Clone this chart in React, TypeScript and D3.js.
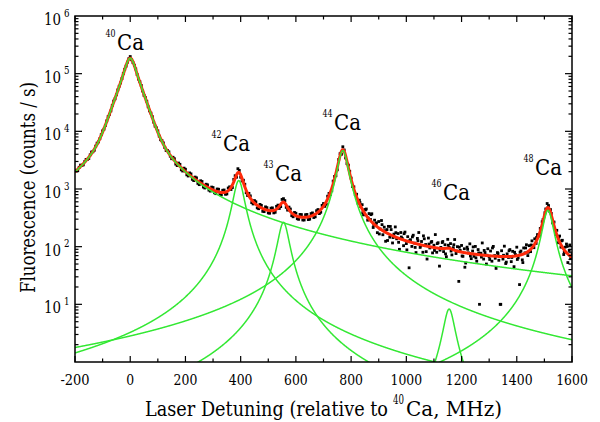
import * as d3 from "d3";

// measured scan, [detuning MHz, counts/s]
const scanCoarse: [number, number][] = [
  [-200, 2120], [-190, 2080], [-180, 2600], [-170, 2620], [-160, 3250], [-150, 3380],
  [-140, 4380], [-130, 4700], [-120, 6250], [-110, 7450], [-100, 10200], [-90, 12600],
  [-80, 18000], [-70, 22600], [-60, 33500], [-50, 43000], [-40, 60500], [-30, 82000],
  [-20, 119000], [-10, 158000], [0, 198000], [10, 155000], [20, 121000], [30, 80500],
  [40, 62500], [50, 42000], [60, 33300], [70, 22600], [80, 18000], [90, 12300],
  [100, 10200], [110, 7150], [120, 6300], [130, 4650], [140, 4400], [150, 3350],
  [160, 3350], [170, 2550], [180, 2680], [190, 2050], [200, 2200], [210, 1680],
  [220, 1830], [230, 1400], [240, 1560], [250, 1190], [260, 1350], [270, 1040],
  [280, 1180], [290, 920], [300, 1060], [310, 830], [320, 990], [330, 790],
  [340, 960], [350, 820], [360, 1090], [370, 1060], [380, 1700], [390, 2250],
  [400, 1600], [410, 1420], [420, 860], [430, 840], [440, 580], [450, 630],
  [460, 470], [470, 540], [480, 410], [490, 490], [500, 385], [510, 465],
  [520, 385], [530, 500], [540, 460], [550, 660], [560, 630], [570, 430],
  [580, 450], [590, 330], [600, 380], [610, 298], [620, 360], [630, 290],
  [640, 362], [650, 300], [660, 385], [670, 330], [680, 440], [690, 395],
  [700, 560], [710, 545], [720, 840], [730, 930], [740, 1650], [750, 2150],
  [760, 4100], [770, 5400], [780, 3450], [790, 2600],
];

const scanFine: [number, number][] = [
  [-195, 2050], [-185, 2380], [-175, 2560], [-165, 2980], [-155, 3260], [-145, 3920],
  [-135, 4420], [-125, 5550], [-115, 6550], [-105, 8750], [-95, 10900], [-85, 15200],
  [-75, 19700], [-65, 28100], [-55, 36600], [-45, 52300], [-35, 69000], [-25, 100500],
  [-15, 135000], [-5, 182000], [5, 174000], [15, 140000], [25, 96500], [35, 72500],
  [45, 50000], [55, 38500], [65, 26600], [75, 20700], [85, 14400], [95, 11500],
  [105, 8250], [115, 6900], [125, 5250], [135, 4650], [145, 3700], [155, 3550],
  [165, 2700], [175, 2820], [185, 2150], [195, 2300], [205, 1760], [215, 1900],
  [225, 1470], [235, 1610], [245, 1250], [255, 1390], [265, 1080], [275, 1210],
  [285, 955], [295, 1080], [305, 860], [315, 1000], [325, 800], [335, 950],
  [345, 810], [355, 1040], [365, 980], [375, 1470], [385, 1600], [395, 2100],
  [405, 1380], [415, 1210], [425, 770], [435, 760], [445, 550], [455, 600],
  [465, 455], [475, 520], [485, 405], [495, 475], [505, 380], [515, 470],
  [525, 395], [535, 525], [545, 495], [555, 680], [565, 480], [575, 485],
  [585, 345], [595, 392], [605, 305], [615, 362], [625, 290], [635, 358],
  [645, 295], [655, 375], [665, 320], [675, 420], [685, 375], [695, 520],
  [705, 500], [715, 750], [725, 800], [735, 1370], [745, 1700], [755, 3250],
  [765, 4000], [775, 4750], [785, 2750], [795, 2030],
];

const scanTail: [number, number][] = [
  [800, 1550], [805, 1100], [810, 1090], [815, 800], [820, 810], [825, 567],
  [830, 640], [835, 495], [840, 535], [845, 356], [850, 440], [855, 450],
  [860, 288], [865, 375], [870, 296], [875, 372], [880, 215], [885, 288],
  [890, 252], [895, 175], [900, 273], [905, 203], [910, 284], [915, 161],
  [920, 218], [925, 124], [930, 198], [935, 225], [940, 146], [945, 198],
  [950, 116], [955, 165], [960, 220], [965, 137], [970, 169], [975, 90],
  [980, 176], [985, 139], [990, 104], [995, 179], [1000, 113], [1005, 149],
  [1010, 43], [1015, 132], [1020, 101], [1025, 158], [1030, 115], [1035, 79],
  [1040, 139], [1045, 176], [1050, 97], [1055, 123], [1060, 80], [1065, 137],
  [1070, 109], [1075, 61], [1080, 141], [1085, 95], [1090, 119], [1095, 78],
  [1100, 106], [1105, 162], [1110, 80], [1115, 117], [1120, 46], [1125, 97],
  [1130, 118], [1135, 82], [1140, 108], [1145, 67], [1150, 134], [1155, 97],
  [1160, 113], [1165, 72], [1170, 96], [1175, 133], [1180, 76], [1185, 100],
  [1190, 25], [1195, 86], [1200, 105], [1205, 68], [1210, 92], [1215, 52],
  [1220, 98], [1225, 78], [1230, 112], [1235, 62], [1240, 84], [1245, 68],
  [1250, 101], [1255, 56], [1260, 89], [1265, 10], [1270, 77], [1275, 116],
  [1280, 61], [1285, 79], [1290, 50], [1295, 92], [1300, 67], [1305, 84],
  [1310, 56], [1315, 101], [1320, 70], [1325, 42], [1330, 79], [1335, 58],
  [1340, 10], [1345, 85], [1350, 61], [1355, 102], [1360, 51], [1365, 75],
  [1370, 65], [1375, 89], [1380, 55], [1385, 83], [1390, 45], [1395, 73],
  [1400, 98], [1405, 64], [1410, 22], [1415, 84], [1420, 59], [1425, 95],
  [1430, 78], [1435, 108], [1440, 70], [1445, 104], [1450, 82], [1455, 126],
  [1460, 104], [1465, 137], [1470, 114], [1475, 162], [1480, 159], [1485, 207],
  [1490, 215], [1495, 294], [1500, 342], [1505, 451], [1510, 560], [1515, 517],
  [1520, 405], [1525, 378], [1530, 258], [1535, 267], [1540, 191], [1545, 192],
  [1550, 117], [1555, 153], [1560, 98], [1565, 129], [1570, 73], [1575, 98],
  [1580, 111], [1585, 53], [1590, 86], [1595, 62], [1600, 73],
];

const scanTailExtra: [number, number][] = [
  [832, 583], [842, 387], [852, 434], [862, 312], [872, 359], [882, 236],
  [892, 259], [902, 166], [912, 241], [922, 189], [932, 128], [942, 224],
  [952, 144], [962, 175], [972, 119], [982, 147], [992, 168], [1002, 88],
  [1012, 127], [1022, 148], [1032, 97], [1042, 127], [1052, 103], [1062, 154],
  [1072, 82], [1082, 111], [1092, 123], [1102, 86], [1112, 113], [1122, 87],
  [1132, 123], [1142, 75], [1152, 106], [1162, 84], [1172, 108], [1182, 84],
  [1192, 98], [1202, 69], [1212, 44], [1222, 90], [1232, 69], [1242, 99],
  [1252, 64], [1262, 78], [1272, 66], [1282, 86], [1292, 71], [1302, 60],
  [1312, 95], [1322, 63], [1332, 76], [1342, 10], [1352, 71], [1362, 54],
  [1372, 85], [1382, 65], [1392, 80], [1402, 60], [1412, 80], [1422, 53],
  [1432, 95], [1442, 80], [1452, 107], [1462, 96], [1472, 145], [1482, 153],
  [1492, 270], [1502, 389], [1512, 470], [1522, 440], [1532, 265], [1542, 162],
  [1552, 145], [1562, 126], [1572, 80], [1582, 101], [1592, 107],
];

// fitted peaks (Lorentzian, 40Ca with extra gaussian core)
const isotopes = ["40", "42", "43", "44", "46", "48"];
const peakCenters = [0, 393, 555, 770, 1155, 1513];
const peakHeights = [150000, 1400, 265, 4650, 8.3, 426];
const peakHalfWidths = [23.1, 19, 19, 19, 19, 19];
const coreHeights = [35000, 0, 0, 0, 0, 0];
const coreWidths = [42, 1, 1, 1, 1, 1];
const backgroundCounts = 12;

const xTicks = [-200, 0, 200, 400, 600, 800, 1000, 1200, 1400, 1600];
const yExponents = [1, 2, 3, 4, 5, 6];

const W = 600;
const H = 422;
const margin = { top: 16, right: 28, bottom: 60, left: 75 };
const GREEN = "#33e833";
const RED = "#ff2a0a";
const fontStyle = { fontFamily: "'DejaVu Serif', serif" };

// label anchors in px: left of "Ca", baseline
const labelSpots: [number, number][] = [
  [117, 50], [223, 151], [275, 181], [334, 130], [443, 200], [535, 175],
];

function peak(i: number, v: number) {
  const d = v - peakCenters[i];
  const w2 = peakHalfWidths[i] * peakHalfWidths[i];
  const s2 = 2 * coreWidths[i] * coreWidths[i];
  return (peakHeights[i] * w2) / (d * d + w2) + coreHeights[i] * Math.exp((-d * d) / s2);
}

// squeeze the wide serif so it takes the room of the original Times text
const fit = (len: number) => ({ textLength: len, lengthAdjust: "spacingAndGlyphs" });

export default function App() {
  const x0 = margin.left;
  const x1 = W - margin.right;
  const y0 = margin.top;
  const y1 = H - margin.bottom;

  const x = d3.scaleLinear().domain([-200, 1600]).range([x0, x1]);
  const y = d3.scaleLog().domain([1, 1e6]).range([y1, y0]);

  const grid = d3.range(-200, 1600.5, 1);
  const line = d3
    .line<[number, number]>()
    .x((d) => x(d[0]))
    .y((d) => y(Math.max(d[1], 0.05)));

  const greenPaths = isotopes.map((_, i) =>
    line(grid.map((v) => [v, peak(i, v)] as [number, number])),
  );
  const redPath = line(
    grid.map(
      (v) =>
        [v, backgroundCounts + d3.sum(isotopes, (_, i) => peak(i, v))] as [number, number],
    ),
  );

  const points = [...scanCoarse, ...scanFine, ...scanTail, ...scanTailExtra];

  const xMinor = d3.range(-100, 1600, 200);
  const yAll = y.ticks().filter((t) => t > 1 && t < 1e6);
  const isDecade = (t: number) => Math.abs(Math.log10(t) - Math.round(Math.log10(t))) < 1e-6;

  return (
    <div style={{ position: "absolute", left: 0, top: 0, background: "#fff" }}>
      <svg width={W} height={H} style={{ display: "block" }}>
        <defs>
          <clipPath id="plot-clip">
            <rect x={x0} y={y0} width={x1 - x0} height={y1 - y0} />
          </clipPath>
        </defs>
        <rect width={W} height={H} fill="#fff" />

        <g clipPath="url(#plot-clip)">
          {points.map((p, i) => (
            <rect
              key={i}
              x={x(p[0]) - 1.4}
              y={y(p[1]) - 1.4}
              width={2.8}
              height={2.8}
              fill="#000"
            />
          ))}
          <path d={redPath ?? ""} fill="none" stroke={RED} strokeWidth={3} />
          {greenPaths.map((d, i) => (
            <path key={i} d={d ?? ""} fill="none" stroke={GREEN} strokeWidth={1.5} />
          ))}
        </g>

        {/* frame */}
        <rect
          x={x0}
          y={y0}
          width={x1 - x0}
          height={y1 - y0}
          fill="none"
          stroke="#000"
          strokeWidth={1.5}
        />

        {/* ticks on all four sides, pointing in */}
        <g stroke="#000" strokeWidth={1.2}>
          {xTicks.map((t) => (
            <g key={t}>
              <line x1={x(t)} x2={x(t)} y1={y1} y2={y1 - 6} />
              <line x1={x(t)} x2={x(t)} y1={y0} y2={y0 + 6} />
            </g>
          ))}
          {xMinor.map((t) => (
            <g key={t}>
              <line x1={x(t)} x2={x(t)} y1={y1} y2={y1 - 3.5} />
              <line x1={x(t)} x2={x(t)} y1={y0} y2={y0 + 3.5} />
            </g>
          ))}
          {yAll.map((t) => {
            const len = isDecade(t) ? 7 : 3.5;
            return (
              <g key={t}>
                <line x1={x0} x2={x0 + len} y1={y(t)} y2={y(t)} />
                <line x1={x1} x2={x1 - len} y1={y(t)} y2={y(t)} />
              </g>
            );
          })}
        </g>

        {/* tick labels */}
        <g style={fontStyle} fill="#000">
          {xTicks.map((t) => {
            const s = String(t);
            const len = s.replace("-", "").length * 7.9 + (t < 0 ? 5.5 : 0);
            return (
              <text
                key={t}
                x={x(t) - len / 2}
                y={y1 + 23}
                fontSize={15}
                {...fit(len)}
              >
                {s}
              </text>
            );
          })}
          {yExponents.map((e) => (
            <g key={e}>
              <text x={44} y={y(10 ** e) + 9} fontSize={16} {...fit(17)}>
                10
              </text>
              <text x={64} y={y(10 ** e) + 0.5} fontSize={11} {...fit(5.5)}>
                {e}
              </text>
            </g>
          ))}
        </g>

        {/* axis titles */}
        <text x={145} y={416} style={fontStyle} fontSize={20} fill="#000" {...fit(243)}>
          Laser Detuning (relative to
        </text>
        <text x={393} y={404} style={fontStyle} fontSize={12} fill="#000" {...fit(11)}>
          40
        </text>
        <text x={406} y={416} style={fontStyle} fontSize={20} fill="#000" {...fit(96)}>
          Ca, MHz)
        </text>
        <text
          transform={`translate(35, 293) rotate(-90)`}
          style={fontStyle}
          fontSize={20}
          fill="#000"
          {...fit(211)}
        >
          Fluorescence (counts / s)
        </text>

        {/* isotope labels */}
        <g style={fontStyle} fill="#000">
          {isotopes.map((iso, i) => (
            <g key={iso}>
              <text
                x={labelSpots[i][0] - 11.5}
                y={labelSpots[i][1] - 13}
                fontSize={11}
                {...fit(10)}
              >
                {iso}
              </text>
              <text x={labelSpots[i][0]} y={labelSpots[i][1]} fontSize={23} {...fit(27)}>
                Ca
              </text>
            </g>
          ))}
        </g>
      </svg>
    </div>
  );
}
